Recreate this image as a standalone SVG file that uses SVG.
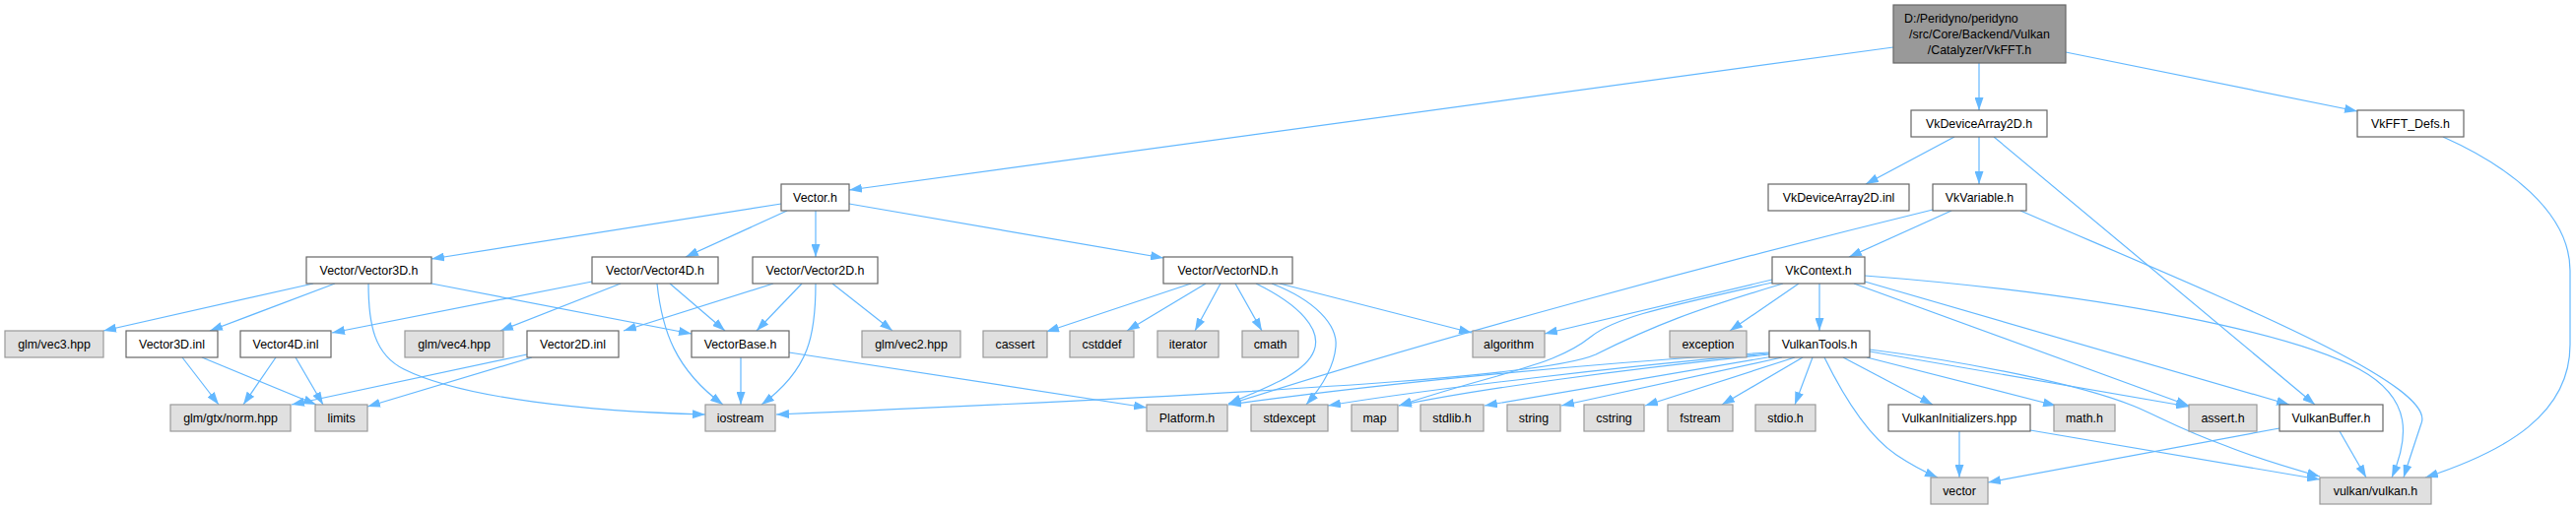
<svg xmlns="http://www.w3.org/2000/svg" width="2615" height="517" viewBox="0 0 2615 517">
<style>
.n rect{fill:#ffffff;stroke:#666666;stroke-width:1.2}
.g rect{fill:#e0e0e0;stroke:#999999;stroke-width:1.2}
.m rect{fill:#999999;stroke:#666666;stroke-width:1.2}
text{font-family:"Liberation Sans",Arial,sans-serif;font-size:12.4px;fill:#000000;text-anchor:middle}
#edges path{fill:none;stroke:#63b8ff;stroke-width:1.2;marker-end:url(#arr)}
</style>
<defs>
<marker id="arr" viewBox="0 0 13 9" refX="13" refY="4.5" markerWidth="13" markerHeight="9" orient="auto" markerUnits="userSpaceOnUse">
<path d="M0,0 L13,4.5 L0,9 z" fill="#63b8ff" stroke="none"/>
</marker>
</defs>
<rect width="2615" height="517" fill="#ffffff"/>
<g id="edges">
<path d="M1922,48 L862,193"/>
<path d="M2009,64 L2009,112"/>
<path d="M2097,53 L2393,113"/>
<path d="M1984,139 L1894,187"/>
<path d="M2009,139 L2009,187"/>
<path d="M2024,139 L2350,411"/>
<path d="M2480,139 C2545,168 2609,215 2609,275 L2609,350 C2609,420 2545,458 2462,485"/>
<path d="M1981,214 L1877,261"/>
<path d="M1962,213 C1750,265 1450,345 1247,411"/>
<path d="M2051,214 C2250,300 2475,390 2458,430 C2452,448 2446,466 2440,485"/>
<path d="M1799,284 L1568,339"/>
<path d="M1799,287 C1690,312 1640,322 1615,342 C1590,362 1560,370 1520,382 C1480,393 1450,402 1420,412"/>
<path d="M1810,288 C1720,315 1680,330 1620,360 C1580,378 1400,395 788,421"/>
<path d="M1826,288 L1756,336"/>
<path d="M1847,288 L1847,336"/>
<path d="M1882,288 L2222,412"/>
<path d="M1893,286 L2324,411"/>
<path d="M1893,280 C2150,300 2330,340 2395,375 C2450,405 2445,445 2428,485"/>
<path d="M1796,358 C1600,370 1400,390 1247,411"/>
<path d="M1796,359 C1650,372 1450,395 1348,412"/>
<path d="M1796,360 C1650,375 1500,395 1420,412"/>
<path d="M1800,362 L1507,412"/>
<path d="M1809,363 L1585,412"/>
<path d="M1822,363 L1670,412"/>
<path d="M1830,363 L1748,411"/>
<path d="M1840,363 L1822,411"/>
<path d="M1852,363 C1875,410 1900,445 1925,462 C1940,472 1953,479 1967,485"/>
<path d="M1871,363 L1962,411"/>
<path d="M1895,363 L2087,412"/>
<path d="M1898,357 L2222,413"/>
<path d="M1898,355 C2000,368 2110,390 2165,412 C2190,422 2210,435 2260,453 C2290,465 2320,474 2355,484"/>
<path d="M1989,438 L1989,485"/>
<path d="M2061,437 L2355,487"/>
<path d="M2375,438 L2402,485"/>
<path d="M2314,435 L2018,490"/>
<path d="M793,207 L438,263"/>
<path d="M799,214 L696,261"/>
<path d="M828,214 L828,261"/>
<path d="M862,207 L1181,262"/>
<path d="M318,288 L105,336"/>
<path d="M340,288 L213,336"/>
<path d="M438,288 L702,339"/>
<path d="M374,288 C374,330 380,360 410,375 C470,405 600,418 716,421"/>
<path d="M601,286 L337,338"/>
<path d="M630,288 L508,336"/>
<path d="M680,288 L736,336"/>
<path d="M667,288 C672,335 685,375 734,411"/>
<path d="M785,288 L633,336"/>
<path d="M814,288 L768,336"/>
<path d="M828,288 C828,340 822,375 773,411"/>
<path d="M845,288 L906,336"/>
<path d="M185,363 L222,411"/>
<path d="M205,363 L321,411"/>
<path d="M280,363 L247,411"/>
<path d="M300,363 L328,411"/>
<path d="M535,360 L296,411"/>
<path d="M540,363 L373,413"/>
<path d="M752,363 L752,411"/>
<path d="M801,358 L1164,414"/>
<path d="M1209,288 L1062,337"/>
<path d="M1224,288 L1144,336"/>
<path d="M1239,288 L1213,336"/>
<path d="M1254,288 L1281,336"/>
<path d="M1275,288 C1320,310 1342,335 1334,356 C1326,378 1290,392 1247,410"/>
<path d="M1291,288 C1335,305 1358,330 1356,352 C1354,375 1340,395 1326,411"/>
<path d="M1299,288 L1494,338"/>
</g>
<g id="n_main" class="m"><rect x="1922" y="5" width="175" height="59"/><text x="1933" y="22.5" style="text-anchor:start">D:/Peridyno/peridyno</text><text x="2009.5" y="38.5">/src/Core/Backend/Vulkan</text><text x="2009.5" y="54.5">/Catalyzer/VkFFT.h</text></g>
<g id="n_vector_h" class="n"><rect x="793" y="187" width="69" height="27"/><text x="827.5" y="205">Vector.h</text></g>
<g id="n_vkdevicearray2d_h" class="n"><rect x="1940" y="112" width="138" height="27"/><text x="2009" y="130">VkDeviceArray2D.h</text></g>
<g id="n_vkfft_defs" class="n"><rect x="2393" y="112" width="108" height="27"/><text x="2447" y="130">VkFFT_Defs.h</text></g>
<g id="n_vkdevicearray2d_inl" class="n"><rect x="1795" y="187" width="143" height="27"/><text x="1866.5" y="205">VkDeviceArray2D.inl</text></g>
<g id="n_vkvariable" class="n"><rect x="1962" y="187" width="95" height="27"/><text x="2009.5" y="205">VkVariable.h</text></g>
<g id="n_vector3d_h" class="n"><rect x="311" y="261" width="127" height="27"/><text x="374.5" y="279">Vector/Vector3D.h</text></g>
<g id="n_vector4d_h" class="n"><rect x="601" y="261" width="128" height="27"/><text x="665" y="279">Vector/Vector4D.h</text></g>
<g id="n_vector2d_h" class="n"><rect x="764" y="261" width="127" height="27"/><text x="827.5" y="279">Vector/Vector2D.h</text></g>
<g id="n_vectornd_h" class="n"><rect x="1181" y="261" width="131" height="27"/><text x="1246.5" y="279">Vector/VectorND.h</text></g>
<g id="n_vkcontext" class="n"><rect x="1799" y="261" width="94" height="27"/><text x="1846" y="279">VkContext.h</text></g>
<g id="n_vector3d_inl" class="n"><rect x="128" y="336" width="93" height="27"/><text x="174.5" y="354">Vector3D.inl</text></g>
<g id="n_vector4d_inl" class="n"><rect x="244" y="336" width="92" height="27"/><text x="290" y="354">Vector4D.inl</text></g>
<g id="n_vector2d_inl" class="n"><rect x="535" y="336" width="93" height="27"/><text x="581.5" y="354">Vector2D.inl</text></g>
<g id="n_vectorbase" class="n"><rect x="702" y="336" width="99" height="27"/><text x="751.5" y="354">VectorBase.h</text></g>
<g id="n_vulkantools" class="n"><rect x="1796" y="336" width="102" height="27"/><text x="1847" y="354">VulkanTools.h</text></g>
<g id="n_vulkaninitializers" class="n"><rect x="1917" y="411" width="144" height="27"/><text x="1989" y="429">VulkanInitializers.hpp</text></g>
<g id="n_vulkanbuffer" class="n"><rect x="2314" y="411" width="105" height="27"/><text x="2366.5" y="429">VulkanBuffer.h</text></g>
<g id="n_vec3" class="g"><rect x="5" y="336" width="100" height="27"/><text x="55" y="354">glm/vec3.hpp</text></g>
<g id="n_vec4" class="g"><rect x="411" y="336" width="100" height="27"/><text x="461" y="354">glm/vec4.hpp</text></g>
<g id="n_vec2" class="g"><rect x="875" y="336" width="100" height="27"/><text x="925" y="354">glm/vec2.hpp</text></g>
<g id="n_cassert" class="g"><rect x="998" y="336" width="65" height="27"/><text x="1030.5" y="354">cassert</text></g>
<g id="n_cstddef" class="g"><rect x="1086" y="336" width="65" height="27"/><text x="1118.5" y="354">cstddef</text></g>
<g id="n_iterator" class="g"><rect x="1175" y="336" width="62" height="27"/><text x="1206" y="354">iterator</text></g>
<g id="n_cmath" class="g"><rect x="1261" y="336" width="57" height="27"/><text x="1289.5" y="354">cmath</text></g>
<g id="n_algorithm" class="g"><rect x="1495" y="336" width="73" height="27"/><text x="1531.5" y="354">algorithm</text></g>
<g id="n_exception" class="g"><rect x="1695" y="336" width="78" height="27"/><text x="1734" y="354">exception</text></g>
<g id="n_norm" class="g"><rect x="173" y="411" width="122" height="27"/><text x="234" y="429">glm/gtx/norm.hpp</text></g>
<g id="n_limits" class="g"><rect x="320" y="411" width="53" height="27"/><text x="346.5" y="429">limits</text></g>
<g id="n_iostream" class="g"><rect x="716" y="411" width="71" height="27"/><text x="751.5" y="429">iostream</text></g>
<g id="n_platform" class="g"><rect x="1164" y="411" width="82" height="27"/><text x="1205" y="429">Platform.h</text></g>
<g id="n_stdexcept" class="g"><rect x="1270" y="411" width="78" height="27"/><text x="1309" y="429">stdexcept</text></g>
<g id="n_map" class="g"><rect x="1372" y="411" width="47" height="27"/><text x="1395.5" y="429">map</text></g>
<g id="n_stdlib" class="g"><rect x="1442" y="411" width="64" height="27"/><text x="1474" y="429">stdlib.h</text></g>
<g id="n_string" class="g"><rect x="1530" y="411" width="54" height="27"/><text x="1557" y="429">string</text></g>
<g id="n_cstring" class="g"><rect x="1608" y="411" width="61" height="27"/><text x="1638.5" y="429">cstring</text></g>
<g id="n_fstream" class="g"><rect x="1693" y="411" width="66" height="27"/><text x="1726" y="429">fstream</text></g>
<g id="n_stdio" class="g"><rect x="1782" y="411" width="61" height="27"/><text x="1812.5" y="429">stdio.h</text></g>
<g id="n_math" class="g"><rect x="2085" y="411" width="62" height="27"/><text x="2116" y="429">math.h</text></g>
<g id="n_assert" class="g"><rect x="2222" y="411" width="69" height="27"/><text x="2256.5" y="429">assert.h</text></g>
<g id="n_vector" class="g"><rect x="1960" y="485" width="58" height="27"/><text x="1989" y="503">vector</text></g>
<g id="n_vulkan" class="g"><rect x="2355" y="485" width="113" height="27"/><text x="2411.5" y="503">vulkan/vulkan.h</text></g>
</svg>
